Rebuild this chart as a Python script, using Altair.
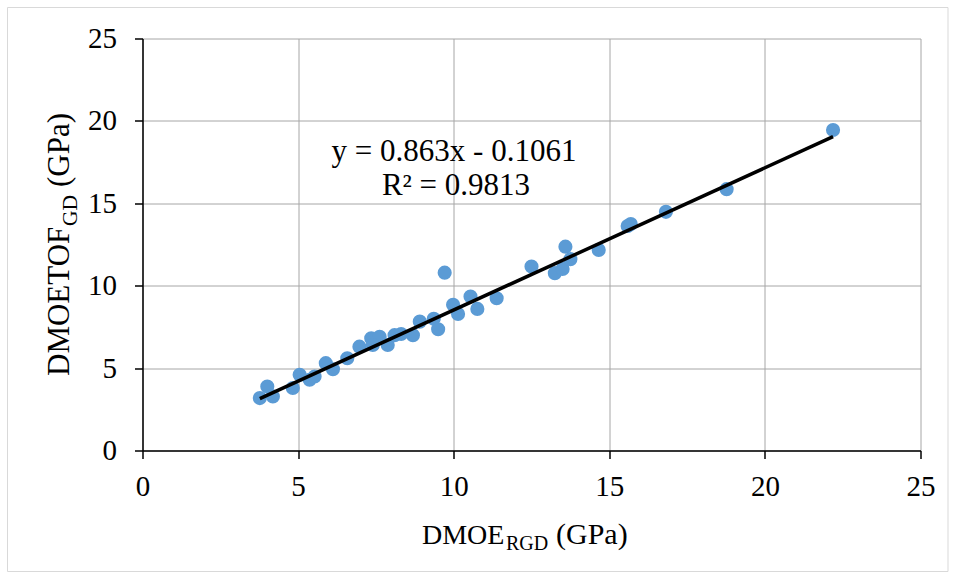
import altair as alt
import pandas as pd

# ---- data ----
x_vals = [3.77, 4.01, 4.19, 4.83, 5.05, 5.37, 5.53, 5.89, 6.12, 6.58,
          6.97, 7.35, 7.62, 7.40, 7.88, 8.10, 8.31, 8.69, 8.91, 9.36,
          9.50, 9.71, 9.98, 10.14, 10.54, 10.76, 11.38, 12.50, 13.25, 13.50,
          13.59, 13.75, 14.66, 15.59, 15.69, 16.82, 18.77, 22.19]
y_vals = [3.18, 3.88, 3.28, 3.79, 4.59, 4.29, 4.49, 5.30, 4.93, 5.60,
          6.30, 6.81, 6.90, 6.40, 6.40, 7.00, 7.07, 7.00, 7.82, 7.99,
          7.36, 10.79, 8.84, 8.29, 9.34, 8.59, 9.24, 11.16, 10.76, 11.02,
          12.37, 11.61, 12.17, 13.62, 13.74, 14.48, 15.86, 19.45]
slope = 0.863
intercept = -0.1061
eq_line1 = "y = 0.863x - 0.1061"
eq_line2 = "R² = 0.9813"
x_ticks = [0, 5, 10, 15, 20, 25]
y_ticks = [0, 5, 10, 15, 20, 25]
x_title_main, x_title_sub, x_title_unit = "DMOE", "RGD", "(GPa)"
y_title_main, y_title_sub, y_title_unit = "DMOETOF", "GD", "(GPa)"

df = pd.DataFrame({"x": x_vals, "y": y_vals})
df_line = pd.DataFrame({"x": [min(x_vals), max(x_vals)]})

PL, PT = 142.5, 38.5
W, H = 778, 412
FONT = "Liberation Serif"

xs = alt.Scale(domain=[0, 25], nice=False)
ys = alt.Scale(domain=[0, 25], nice=False)

x_axis = alt.Axis(values=x_ticks, title=None, labelPadding=14, labelFlush=False,
                  labelOverlap=False)
y_axis = alt.Axis(values=y_ticks, title=None, labelPadding=18, labelFlush=False,
                  labelOverlap=False)

border = alt.Chart(alt.Data(values=[{}])).mark_rect(
    fill="transparent", stroke="#d9d9d9", strokeWidth=1
).encode(x=alt.value(7.5 - PL), x2=alt.value(948 - PL),
         y=alt.value(7.5 - PT), y2=alt.value(571.5 - PT))

points = alt.Chart(df).mark_circle(size=200, color="#5b9bd5", opacity=1).encode(
    x=alt.X("x:Q", scale=xs, axis=x_axis),
    y=alt.Y("y:Q", scale=ys, axis=y_axis),
)

trend = alt.Chart(df_line).transform_calculate(
    y=f"{slope} * datum.x + ({intercept})"
).mark_line(color="black", strokeWidth=3.5).encode(
    x=alt.X("x:Q", scale=xs, axis=x_axis),
    y=alt.Y("y:Q", scale=ys, axis=y_axis),
)


def label(text, x, y, size, angle=0, align="left"):
    return alt.Chart(alt.Data(values=[{}])).mark_text(
        text=text, font=FONT, fontSize=size, color="black",
        align=align, baseline="alphabetic", angle=angle
    ).encode(x=alt.value(x), y=alt.value(y))


texts = [
    label(eq_line1, 454 - PL, 161 - PT, 31, align="center"),
    label(eq_line2, 456 - PL, 195 - PT, 31, align="center"),
    label(x_title_main, 422 - PL, 544 - PT, 28),
    label(x_title_sub, 506 - PL, 550 - PT, 20),
    label(x_title_unit, 556 - PL, 544 - PT, 30),
    label(y_title_main, 69.3 - PL, 376 - PT, 31, angle=270),
    label(y_title_sub, 76.7 - PL, 226 - PT, 21.5, angle=270),
    label(y_title_unit, 69.3 - PL, 187 - PT, 31, angle=270),
]

chart = alt.layer(border, points, trend, *texts).properties(
    width=W, height=H,
    autosize=alt.AutoSizeParams(type="none"),
    padding={"left": PL, "top": PT, "right": 956 - PL - W, "bottom": 580 - PT - H},
    background="white",
).configure_view(strokeOpacity=0).configure_axis(
    grid=True, gridColor="#a6a6a6", gridWidth=1,
    domainColor="black", domainWidth=1.5,
    tickColor="black", tickWidth=1.5, tickSize=8,
    labelFont=FONT, labelFontSize=29, labelColor="black",
)

chart.save("out.html", embed_options={"renderer": "svg", "actions": False})
